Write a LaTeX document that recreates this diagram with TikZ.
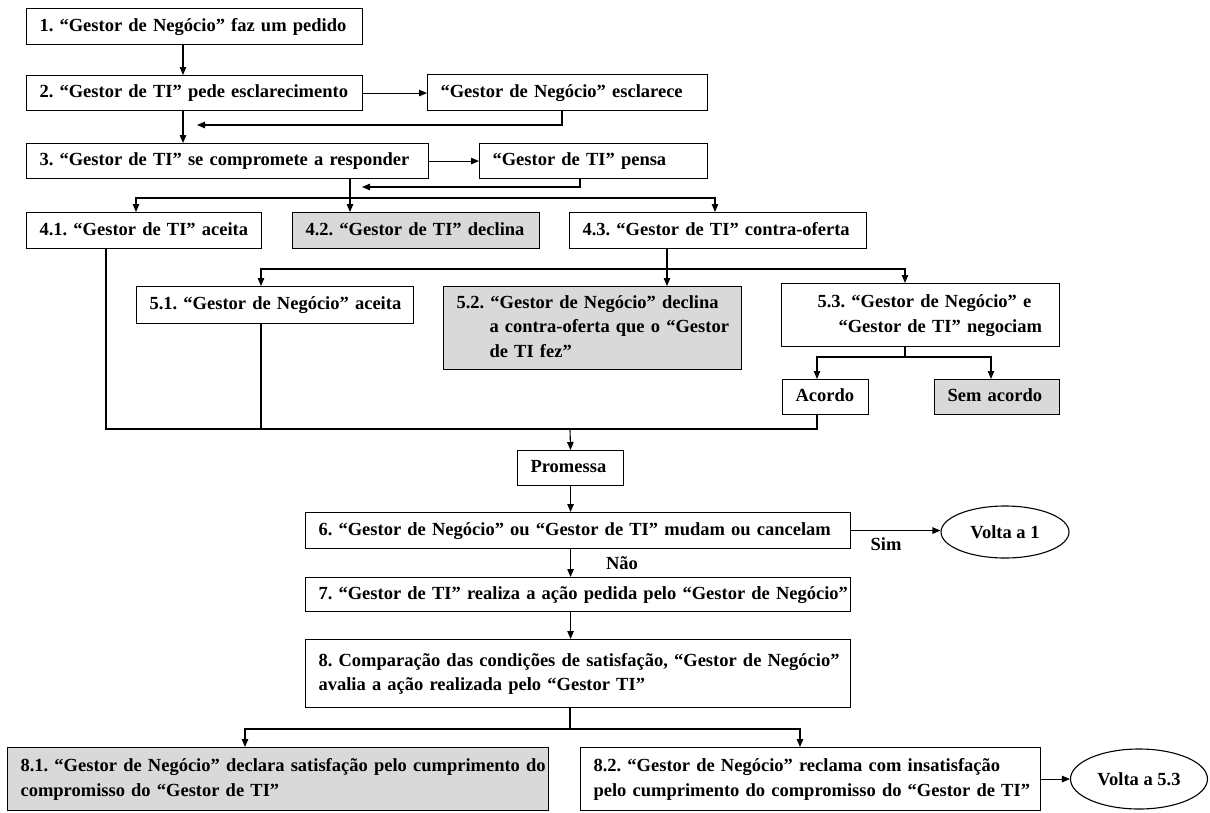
\documentclass[tikz,border=0pt]{standalone}
\usepackage{fontspec}
\setmainfont{Liberation Serif}
\usetikzlibrary{arrows.meta,shapes.geometric}
\definecolor{boxgrey}{RGB}{217,217,217}
\newcommand{\flowfont}{\bfseries\fontsize{18.5}{24.5}\selectfont\frenchspacing}
\tikzset{
  stepbox/.style  = {draw, line width=1.1pt, anchor=north west, inner xsep=13pt,
                     inner ysep=0pt, align=left, font=\flowfont},
  stepgrey/.style = {stepbox, fill=boxgrey},
  backnode/.style = {ellipse, draw, line width=1.1pt, inner sep=0pt, font=\flowfont},
  flow/.style     = {-{Triangle[length=8pt,width=6.5pt]}, line width=1.1pt},
  link/.style     = {line width=1.1pt},
  lbl/.style      = {font=\flowfont, inner sep=0pt},
}
\newcommand{\flowbox}[6]{%
  \pgfmathsetmacro{\flowtw}{#4-26}%
  \node[#2, text width=\flowtw pt, minimum height=#5pt] (#1) at #3
    {\begin{tabular}{@{}l@{}}#6\end{tabular}};
}

\begin{document}
\begin{tikzpicture}[x=1pt, y=-1pt]
  \useasboundingbox (0,0) rectangle (1210,812);

  % steps
  \flowbox{b1}{stepbox}{(26,8)}{336}{36}{1. “Gestor de Negócio” faz um pedido}
  \flowbox{b2}{stepbox}{(26,75)}{336}{35}{2. “Gestor de TI” pede esclarecimento}
  \flowbox{b2a}{stepbox}{(427,74)}{280}{36}{“Gestor de Negócio” esclarece}
  \flowbox{b3}{stepbox}{(26,143)}{402}{35}{3. “Gestor de TI” se compromete a responder}
  \flowbox{b3a}{stepbox}{(479,143)}{228}{35}{“Gestor de TI” pensa}
  \flowbox{b41}{stepbox}{(26,212)}{235}{36}{4.1. “Gestor de TI” aceita}
  \flowbox{b42}{stepgrey}{(292,212)}{247}{36}{4.2. “Gestor de TI” declina}
  \flowbox{b43}{stepbox}{(569,212)}{297}{36}{4.3. “Gestor de TI” contra-oferta}
  \flowbox{b51}{stepbox}{(136,286)}{277}{37}{5.1. “Gestor de Negócio” aceita}
  \flowbox{b52}{stepgrey}{(443,286)}{298}{83}{5.2. “Gestor de Negócio” declina\\
    \hspace*{33pt}a contra-oferta que o “Gestor\\\hspace*{33pt}de TI fez”}
  \flowbox{b53}{stepbox}{(781,283)}{278}{63}{\hspace*{23pt}5.3. “Gestor de Negócio” e\\
    \hspace*{44pt}“Gestor de TI” negociam}
  \flowbox{acordo}{stepbox}{(782,379)}{86}{35}{Acordo}
  \flowbox{semac}{stepgrey}{(934,379)}{125}{35}{Sem acordo}
  \flowbox{promessa}{stepbox}{(517,450)}{106}{35}{Promessa}
  \flowbox{b6}{stepbox}{(305,512)}{545}{36}{6. “Gestor de Negócio” ou “Gestor de TI” mudam ou cancelam}
  \flowbox{b7}{stepbox}{(305,577)}{545}{34}{7. “Gestor de TI” realiza a ação pedida pelo “Gestor de Negócio”}
  \flowbox{b8}{stepbox}{(305,639)}{545}{68}{8. Comparação das condições de satisfação, “Gestor de Negócio”\\
    avalia a ação realizada pelo “Gestor TI”}
  \flowbox{b81}{stepgrey}{(7,747)}{541}{63}{\makebox[509pt][s]{8.1. “Gestor de Negócio” declara satisfação pelo cumprimento do}\\
    compromisso do “Gestor de TI”}
  \flowbox{b82}{stepbox}{(580,747)}{460}{63}{8.2. “Gestor de Negócio” reclama com insatisfação\\
    pelo cumprimento do compromisso do “Gestor de TI”}

  \node[backnode, minimum width=128pt, minimum height=52pt] (volta1) at (1005,532) {Volta a 1};
  \node[backnode, minimum width=137pt, minimum height=60pt] (volta53) at (1139,779) {Volta a 5.3};

  \node[lbl] (sim) at (886,544) {Sim};
  \node[lbl] (nao) at (622,563) {Não};

  % column stops
  \coordinate (xa)  at (183,0);
  \coordinate (xe)  at (562,0);
  \coordinate (re)  at (197,125);
  \coordinate (xp)  at (580,0);
  \coordinate (rp)  at (362,187);
  \coordinate (s3)  at (350,198);
  \coordinate (x41) at (136,0);
  \coordinate (x43) at (715,0);
  \coordinate (s43) at (667,269);
  \coordinate (x51) at (261,0);
  \coordinate (x53) at (905,0);
  \coordinate (s53) at (905,357);
  \coordinate (xac) at (817,0);
  \coordinate (xsa) at (991,0);
  \coordinate (y41) at (106,0);
  \coordinate (mg)  at (570,429);
  \coordinate (s8)  at (570,729);
  \coordinate (x81) at (245,0);
  \coordinate (x82) at (800,0);

  % connectors
  \draw[flow] (b1.south -| xa) -- (b2.north -| xa);
  \draw[flow] (b2.east) -- (b2.east -| b2a.west);
  \draw[flow] (b2a.south -| xe) |- (re);
  \draw[flow] (b2.south -| xa) -- (b3.north -| xa);
  \draw[flow] (b3.east) -- (b3.east -| b3a.west);
  \draw[flow] (b3a.south -| xp) |- (rp);
  \draw[flow] (b3.south -| s3) -- (b42.north -| s3);
  \draw[flow] (s3) -| (b41.north -| x41);
  \draw[flow] (s3) -| (b43.north -| x43);
  \draw[flow] (b43.south -| s43) -- (b52.north -| s43);
  \draw[flow] (s43) -| (b51.north -| x51);
  \draw[flow] (s43) -| (b53.north -| x53);
  \draw[link] (b53.south -| s53) -- (s53);
  \draw[flow] (s53) -| (acordo.north -| xac);
  \draw[flow] (s53) -| (semac.north -| xsa);
  \draw[link] (b41.south -| y41) |- (mg);
  \draw[link] (b51.south -| x51) -- (x51 |- mg);
  \draw[link] (acordo.south -| xac) |- (mg);
  \draw[flow] (mg) -- (promessa.north);
  \draw[flow] (promessa.south) -- (promessa.south |- b6.north);
  \draw[flow] (b6.south -| promessa) -- (b7.north -| promessa);
  \draw[flow] (b6.east) -- (b6.east -| volta1.west);
  \draw[flow] (b7.south -| promessa) -- (b8.north -| promessa);
  \draw[link] (b8.south -| s8) -- (s8);
  \draw[flow] (s8) -| (b81.north -| x81);
  \draw[flow] (s8) -| (b82.north -| x82);
  \draw[flow] (b82.east) -- (b82.east -| volta53.west);
\end{tikzpicture}
\end{document}
